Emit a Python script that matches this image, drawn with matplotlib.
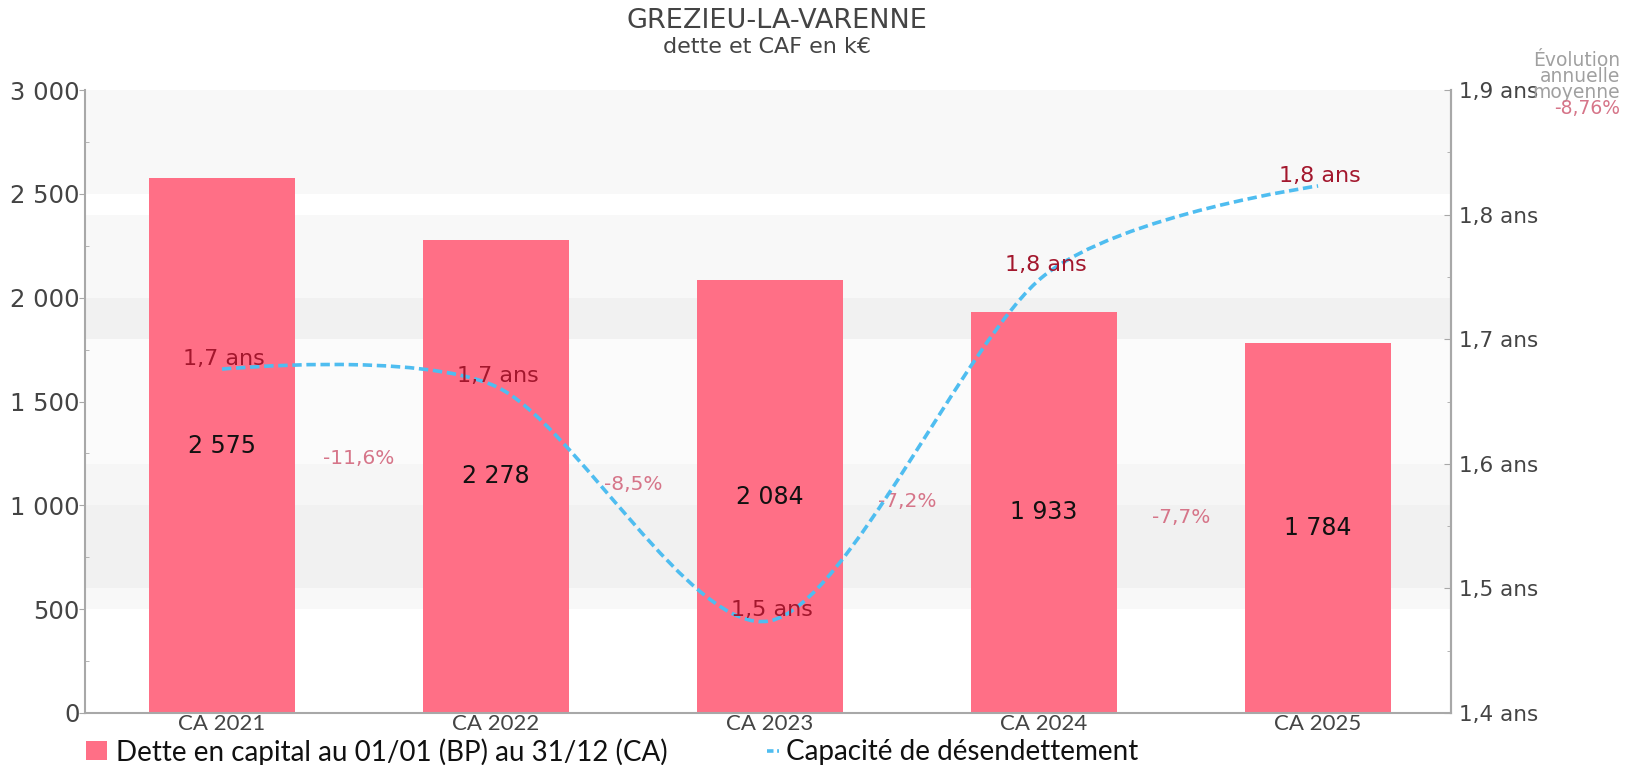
import numpy as np
import matplotlib
matplotlib.use("Agg")
import matplotlib.pyplot as plt
from matplotlib.path import Path
from matplotlib.patches import PathPatch, Rectangle
from matplotlib.lines import Line2D

# ---------------- data ----------------
categories = ["CA 2021", "CA 2022", "CA 2023", "CA 2024", "CA 2025"]
dette = [2575, 2278, 2084, 1933, 1784]
dette_labels = ["2 575", "2 278", "2 084", "1 933", "1 784"]
capacite = [1.676, 1.662, 1.474, 1.751, 1.823]
capacite_labels = ["1,7 ans", "1,7 ans", "1,5 ans", "1,8 ans", "1,8 ans"]
evolutions = ["-11,6%", "-8,5%", "-7,2%", "-7,7%"]
evolution_moyenne = "-8,76%"
evolution_title = "Évolution\nannuelle\nmoyenne"
left_ticks = [0, 500, 1000, 1500, 2000, 2500, 3000]
left_tick_labels = ["0", "500", "1 000", "1 500", "2 000", "2 500", "3 000"]
right_ticks = [1.4, 1.5, 1.6, 1.7, 1.8, 1.9]
right_tick_labels = ["1,4 ans", "1,5 ans", "1,6 ans", "1,7 ans", "1,8 ans", "1,9 ans"]
title = "GREZIEU-LA-VARENNE"
subtitle = "dette et CAF en k€"
legend_bar = "Dette en capital au 01/01 (BP) au 31/12 (CA)"
legend_line = "Capacité de désendettement"

# ---------------- style ----------------
W, H = 1625, 765
BAR_COLOR = "#FF6F86"
LINE_COLOR = "#4FBDF0"
LABEL_RED = "#A3172D"
PCT_COLOR = "#D67589"
AXIS_GREY = "#A8A8A8"
TEXT_GREY = "#444444"

fig = plt.figure(figsize=(W / 100, H / 100), dpi=100)
fig.patch.set_facecolor("white")

def fx(px):
    return px / W

def fy(py):
    return 1 - py / H

left, right, top, bottom = 85, 1451, 90, 713
ax = fig.add_axes([fx(left), fy(bottom), (right - left) / W, (bottom - top) / H])
ax.set_facecolor("white")

# background bands (left-axis units)
bands = [(2500, 3000, "#F8F8F8"), (2000, 2400, "#F8F8F8"), (1800, 2000, "#F1F1F1"),
         (1200, 1800, "#FBFBFB"), (1000, 1200, "#F6F6F6"), (600, 1000, "#F1F1F1"),
         (500, 600, "#F8F8F8")]
for y0, y1, c in bands:
    ax.axhspan(y0, y1, color=c, lw=0, zorder=0)

x = np.arange(len(categories))
ax.bar(x, dette, width=0.53, color=BAR_COLOR, zorder=2)
ax.set_xlim(-0.50, 4.485)
ax.set_ylim(0, 3000)

for i, (v, lab) in enumerate(zip(dette, dette_labels)):
    ax.text(i, v / 2, lab, ha="center", va="center", fontsize=17,
            family="DejaVu Sans", color="#111111", zorder=5)

for i, lab in enumerate(evolutions):
    ax.text(i + 0.5, (dette[i] + dette[i + 1]) / 4 + 12, lab, ha="center", va="center",
            fontsize=14.5, family="DejaVu Sans", color=PCT_COLOR, zorder=5)

ax.set_yticks(left_ticks)
ax.set_yticklabels(left_tick_labels, fontsize=17.5, family="DejaVu Sans", color=TEXT_GREY)
ax.set_yticks(np.arange(0, 3001, 250), minor=True)
ax.tick_params(axis="y", which="major", length=4, color=AXIS_GREY, pad=0)
ax.tick_params(axis="y", which="minor", length=3, color=AXIS_GREY, direction="in")
ax.set_xticks(x)
ax.set_xticklabels(categories, fontsize=16, family="Lato", color=TEXT_GREY)
ax.tick_params(axis="x", length=0, pad=1)
ax.spines["top"].set_visible(False)
for s in ["left", "bottom", "right"]:
    ax.spines[s].set_color(AXIS_GREY)
    ax.spines[s].set_linewidth(1.5)

# ---------------- secondary axis: spline line ----------------
ax2 = ax.twinx()
ax2.set_ylim(1.4, 1.9)
ax2.set_yticks(right_ticks)
ax2.set_yticklabels(right_tick_labels, fontsize=15.5, family="DejaVu Sans", color=TEXT_GREY)
ax2.set_yticks(np.arange(1.4, 1.9001, 0.05), minor=True)
ax2.tick_params(axis="y", which="major", length=5, color=AXIS_GREY, pad=6, direction="in")
ax2.tick_params(axis="y", which="minor", length=3, color=AXIS_GREY, direction="in")
for s in ["top", "left", "bottom"]:
    ax2.spines[s].set_visible(False)
ax2.spines["right"].set_color(AXIS_GREY)
ax2.spines["right"].set_linewidth(1.5)

# cardinal spline through the data points (Bezier segments)
P = np.column_stack([x.astype(float), np.asarray(capacite, dtype=float)])
n = len(P)
k = 0.85 / 6
verts = [tuple(P[0])]
codes = [Path.MOVETO]
for i in range(n - 1):
    c1 = P[i] + (P[i + 1] - P[i - 1]) * k if i > 0 else P[i]
    c2 = P[i + 1] - (P[i + 2] - P[i]) * k if i + 1 < n - 1 else P[i + 1]
    verts += [tuple(c1), tuple(c2), tuple(P[i + 1])]
    codes += [Path.CURVE4] * 3
patch = PathPatch(Path(verts, codes), fill=False, edgecolor=LINE_COLOR, lw=2.6,
                  linestyle=(0, (2.6, 1.3)), zorder=4, capstyle="butt")
ax2.add_patch(patch)

for i, (v, lab) in enumerate(zip(capacite, capacite_labels)):
    ax2.annotate(lab, (i, v), xytext=(1, 7.5), textcoords="offset points",
                 ha="center", va="center", fontsize=16, family="DejaVu Sans",
                 color=LABEL_RED, zorder=6)

# ---------------- titles ----------------
fig.text(fx(777), fy(21), title, ha="center", va="center", fontsize=19.5,
         family="DejaVu Sans", color=TEXT_GREY)
fig.text(fx(767), fy(47), subtitle, ha="center", va="center", fontsize=16,
         family="DejaVu Sans", color=TEXT_GREY)

# top-right annual evolution
fig.text(fx(1620), fy(51), evolution_title, ha="right", va="top", fontsize=13.5,
         family="DejaVu Sans", color="#A0A0A0", linespacing=0.8)
fig.text(fx(1620), fy(108), evolution_moyenne, ha="right", va="center", fontsize=13.5,
         family="DejaVu Sans", color=PCT_COLOR)

# ---------------- legend ----------------
fig.add_artist(Rectangle((fx(86), fy(760)), fx(107) - fx(86), fy(741) - fy(760),
                         transform=fig.transFigure, color=BAR_COLOR, lw=0))
fig.text(fx(116), fy(752), legend_bar, ha="left", va="center", fontsize=20,
         family="Lato", color="#111111")
fig.add_artist(Line2D([fx(767), fx(779)], [fy(751), fy(751)], transform=fig.transFigure,
                      color=LINE_COLOR, lw=2.6, linestyle=(0, (1.8, 1.0))))
fig.text(fx(786), fy(752), legend_line, ha="left", va="center", fontsize=20,
         family="Lato", color="#111111")

fig.savefig("out.png", dpi=100)
